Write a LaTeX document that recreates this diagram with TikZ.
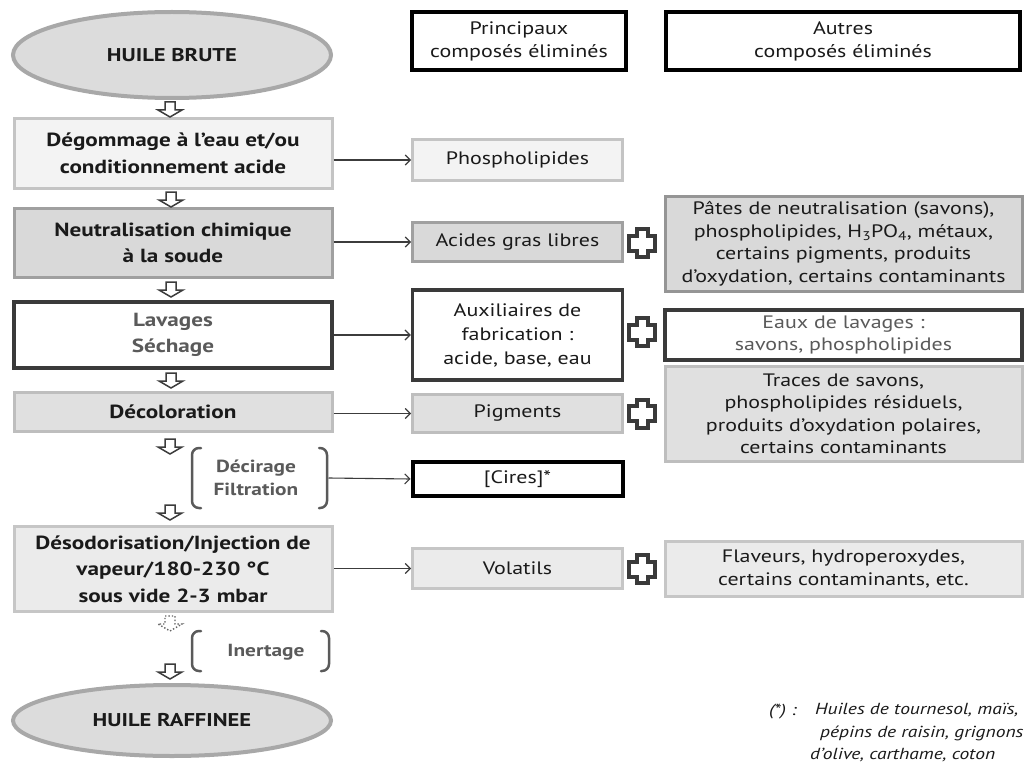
\documentclass[tikz,border=0pt]{standalone}
\usepackage{fontspec}
\setmainfont{PT Sans}[FakeStretch=1.22]
\usetikzlibrary{shapes.geometric,arrows.meta,calc}
\definecolor{txt}{HTML}{1A1A1A}
\definecolor{gtxt}{HTML}{5A5A5A}
\definecolor{ellF}{HTML}{DCDCDC}
\definecolor{ellD}{HTML}{A8A8A8}
\definecolor{lightF}{HTML}{F3F3F3}
\definecolor{lightD}{HTML}{C4C4C4}
\definecolor{midF}{HTML}{D9D9D9}
\definecolor{midD}{HTML}{A0A0A0}
\definecolor{patesD}{HTML}{959595}
\definecolor{decoF}{HTML}{E0E0E0}
\definecolor{decoD}{HTML}{BEBEBE}
\definecolor{desoF}{HTML}{EBEBEB}
\definecolor{desoD}{HTML}{C6C6C6}
\definecolor{darkD}{HTML}{3A3A3A}
\definecolor{arrowC}{HTML}{3C3C3C}
\tikzset{
  ovalnode/.style={ellipse, draw=ellD, fill=ellF, line width=4pt, minimum width=318, inner sep=0pt,
    font=\bfseries\fontsize{18.5}{22}\selectfont, text=txt},
  mainbox/.style={rectangle, minimum width=318, inner sep=0pt, align=center, line width=3pt,
    font=\bfseries\fontsize{19}{26.5}\selectfont, text=txt},
  secbox/.style={rectangle, minimum width=210, inner sep=0pt, align=center, line width=3pt,
    font=\fontsize{18}{24}\selectfont, text=txt},
  thirdbox/.style={rectangle, minimum width=357, inner sep=0pt, align=center, line width=3pt,
    font=\fontsize{18}{22.5}\selectfont, text=txt},
  headbox/.style={rectangle, inner sep=0pt, align=center, line width=4pt, draw=black, fill=white,
    minimum height=58, font=\fontsize{18}{23}\selectfont, text=txt},
  lightst/.style={fill=lightF, draw=lightD},
  midst/.style={fill=midF, draw=midD},
  decost/.style={fill=decoF, draw=decoD},
  desost/.style={fill=desoF, draw=desoD},
  darkst/.style={fill=white, draw=darkD, line width=4pt},
  grouplabel/.style={align=center, inner sep=0pt, font=\bfseries\fontsize{17.5}{23}\selectfont, text=gtxt},
  conn/.style={draw=arrowC, line width=1.1pt, -{Straight Barb[length=5pt,width=10pt]}},
  brk/.style={draw=gtxt, line width=2.5pt, rounded corners=7pt, line cap=round},
  darrow/.pic={\draw[draw=arrowC, fill=white, line width=1.5pt, line join=miter]
     (-5,0) -- (5,0) -- (5,8) -- (12,8) -- (0,15) -- (-12,8) -- (-5,8) -- cycle;},
  darrowdot/.pic={\draw[draw=arrowC!80, fill=white, line width=1.4pt, dotted]
     (-5,0) -- (5,0) -- (5,8) -- (12,8) -- (0,15) -- (-12,8) -- (-5,8) -- cycle;},
  plussign/.pic={\draw[draw=darkD, fill=white, line width=4pt, line join=miter]
     (-5.5,-14) -- (5.5,-14) -- (5.5,-7.5) -- (13,-7.5) -- (13,7.5) -- (5.5,7.5) -- (5.5,14)
     -- (-5.5,14) -- (-5.5,7.5) -- (-13,7.5) -- (-13,-7.5) -- (-5.5,-7.5) -- cycle;}
}
\begin{document}
\begin{tikzpicture}[x=1pt,y=-1pt]
\useasboundingbox[fill=white] (0,0) rectangle (1031,765);

% headers
\node[headbox, minimum width=214] (princ) at (519,41) {Principaux\\composés éliminés};
\node[headbox, minimum width=354] (autres) at (843,41) {Autres\\composés éliminés};

% main column
\node[ovalnode, minimum height=86] (brute) at (172,55) {HUILE BRUTE};
\node[mainbox, lightst, minimum height=70] (deg) at (173,153.5) {Dégommage à l’eau et/ou\\conditionnement acide};
\node[mainbox, midst, minimum height=69] (neut) at (173,243) {Neutralisation chimique\\à la soude};
\node[mainbox, darkst, text=gtxt, minimum height=66] (lav) at (173,335) {Lavages\\Séchage};
\node[mainbox, decost, minimum height=39] (deco) at (173,412) {Décoloration};
\node[grouplabel] (decir) at (256,478) {Décirage\\Filtration};
\node[mainbox, desost, minimum height=85] (deso) at (173,569) {Désodorisation/Injection de\\vapeur/180-230 °C\\sous vide 2-3 mbar};
\node[grouplabel] (inert) at (266,652) {Inertage};
\node[ovalnode, minimum height=71] (raff) at (172,720.5) {HUILE RAFFINEE};

% brackets
\draw[brk] (201,448) -- (192,448) -- (192,508) -- (201,508);
\draw[brk] (319,448) -- (327,448) -- (327,508) -- (319,508);
\coordinate (decirR) at (328.5,478);
\draw[brk] (201,631) -- (192,631) -- (192,671) -- (201,671);
\draw[brk] (321,631) -- (329,631) -- (329,671) -- (321,671);

% down arrows
\pic at ($(brute.south)+(-2,2)$) {darrow};
\pic at ($(deg.south)+(-2,2)$) {darrow};
\pic at ($(neut.south)+(-2,3)$) {darrow};
\pic at ($(lav.south)+(-2,3)$) {darrow};
\pic at ($(deco.south)+(-3,6)$) {darrow};
\pic at ($(deso.north)+(-3,-20)$) {darrow};
\pic at ($(deso.south)+(-3,3)$) {darrowdot};
\pic at ($(raff.north)+(-2,-19)$) {darrow};

% second column
\node[secbox, lightst, minimum height=41] (phos) at (517.5,160) {Phospholipides};
\node[secbox, midst, minimum height=39] (acides) at (517.5,242) {Acides gras libres};
\node[secbox, darkst, line width=3.5pt, minimum height=90] (aux) at (517.5,335) {Auxiliaires de\\fabrication :\\acide, base, eau};
\node[secbox, decost, minimum height=38] (pigm) at (517.5,413.5) {Pigments};
\node[secbox, fill=white, draw=black, line width=4pt, minimum height=34] (cires) at (517.5,479) {[Cires]*};
\node[secbox, desost, minimum height=40] (vol) at (517.5,568.5) {Volatils};

% third column
\node[thirdbox, fill=midF, draw=patesD, minimum height=95] (pates) at (843.5,244) {Pâtes de neutralisation (savons),\\phospholipides, H\textsubscript{3}PO\textsubscript{4}, métaux,\\certains pigments, produits\\d’oxydation, certains contaminants};
\node[thirdbox, darkst, line width=4.5pt, minimum height=50, text=gtxt] (eaux) at (843.5,335) {Eaux de lavages :\\savons, phospholipides};
\node[thirdbox, decost, minimum height=95] (traces) at (843.5,414) {Traces de savons,\\phospholipides résiduels,\\produits d’oxydation polaires,\\certains contaminants};
\node[thirdbox, desost, minimum height=55] (flav) at (843.5,569) {Flaveurs, hydroperoxydes,\\certains contaminants, etc.};

% plus signs
\pic at (642,243) {plussign};
\pic at (642,332) {plussign};
\pic at (642,413.5) {plussign};
\pic at (642,569) {plussign};

% connectors
\draw[conn] (deg.east |- phos.west) -- (phos.west);
\draw[conn] (neut.east |- acides.west) -- (acides.west);
\draw[conn] (lav.east |- aux.west) -- (aux.west);
\draw[conn] (deco.east |- pigm.west) -- (pigm.west);
\draw[conn] (decirR) -- (cires.west);
\draw[conn] (deso.east |- vol.west) -- (vol.west);

% footnote
\node[anchor=west, inner sep=0pt, font=\itshape\fontsize{16}{22}\selectfont, text=txt] (star) at (769,712) {(*) :};
\node[anchor=north west, inner sep=0pt, align=left, font=\itshape\fontsize{16}{22.5}\selectfont, text=txt] (foot) at (810,703)
  {\hspace*{5pt}Huiles de tournesol, maïs,\\\hspace*{10pt}pépins de raisin, grignons\\d’olive, carthame, coton};
\end{tikzpicture}
\end{document}
